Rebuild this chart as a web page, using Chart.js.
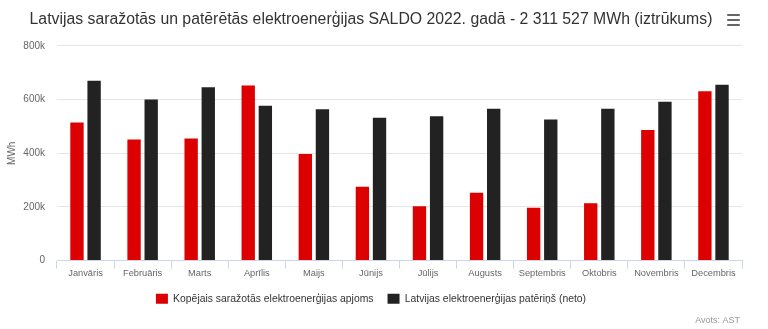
<!DOCTYPE html>
<html>
<head>
<meta charset="utf-8">
<script src="https://cdn.jsdelivr.net/npm/chart.js@4/dist/chart.umd.min.js"></script>
<style>
  html, body { margin: 0; padding: 0; background: #fff; }
  #wrap { position: relative; width: 768px; height: 329px; }
</style>
</head>
<body>
<div id="wrap"><canvas id="chart_canvas" width="768" height="329"></canvas></div>
<script>
// month labels
const months = ["Janvāris", "Februāris", "Marts", "Aprīlis", "Maijs", "Jūnijs",
  "Jūlijs", "Augusts", "Septembris", "Oktobris", "Novembris", "Decembris"];

// MWh
const produced = [515000, 451000, 455000, 653000, 397000, 275000,
  203000, 253000, 197000, 214000, 487000, 631000];
const consumed = [670000, 600000, 646000, 577000, 564000, 532000,
  538000, 566000, 526000, 566000, 592000, 655000];

const series_names = ["Kopējais saražotās elektroenerģijas apjoms",
  "Latvijas elektroenerģijas patēriņš (neto)"];

const title_text = "Latvijas saražotās un patērētās elektroenerģijas SALDO 2022. gadā - 2 311 527 MWh (iztrūkums)";
const credits_text = "Avots: AST";

const font_family = "'Liberation Sans', Arial, sans-serif";

// hamburger menu + credits, drawn after everything else
const extras_plugin = {
  id: "extras",
  afterDraw(chart){
    const ctx = chart.ctx;
    ctx.save();
    ctx.strokeStyle = "#666";
    ctx.lineWidth = 2;
    ctx.lineCap = "round";
    for(let i = 0; i < 3; i++){
      const y = 15 + i * 5;
      ctx.beginPath();
      ctx.moveTo(728, y);
      ctx.lineTo(739, y);
      ctx.stroke();
    }
    ctx.fillStyle = "#999";
    ctx.font = "9px " + font_family;
    ctx.textAlign = "right";
    ctx.textBaseline = "middle";
    ctx.fillText(credits_text, 740, 321);
    ctx.restore();
  }
};

const ctx_1 = document.getElementById("chart_canvas");

const chart_1 = new Chart(ctx_1, {
  type: "bar",
  data: {
    labels: months,
    datasets: [{
      label: series_names[0],
      data: produced,
      backgroundColor: "#dd0000",
      borderWidth: 0
    }, {
      label: series_names[1],
      data: consumed,
      backgroundColor: "#222222",
      borderWidth: 0
    }]
  },
  options: {
    responsive: false,
    animation: false,
    layout: { padding: { left: 0, right: 26, top: 6, bottom: 15 } },
    datasets: {
      bar: { categoryPercentage: 0.6, barPercentage: 0.78 }
    },
    scales: {
      x: {
        offset: true,
        grid: {
          offset: true,
          drawOnChartArea: false,
          drawTicks: true,
          tickLength: 8,
          color: "#ccd6eb"
        },
        border: { color: "#ccd6eb" },
        ticks: {
          padding: -1,
          color: "#666",
          font: { family: font_family, size: 9.3 },
          maxRotation: 0,
          autoSkip: false
        },
        afterFit(scale){ scale.height = 19; }
      },
      y: {
        min: 0,
        max: 800000,
        ticks: {
          stepSize: 200000,
          padding: 12,
          color: "#666",
          font: { family: font_family, size: 10 },
          callback: (v) => v === 0 ? "0" : (v / 1000) + "k"
        },
        grid: { color: "#e6e6e6", drawTicks: false },
        border: { display: false },
        title: {
          display: true,
          text: "MWh",
          color: "#666",
          padding: { top: 6, bottom: 0 },
          font: { family: font_family, size: 10 }
        },
        afterFit(scale){ scale.width = 57; }
      }
    },
    plugins: {
      title: {
        display: true,
        text: title_text,
        color: "#333",
        font: { family: font_family, size: 15.8, weight: "normal" },
        padding: { top: 4, bottom: 17 }
      },
      legend: {
        position: "bottom",
        labels: {
          boxWidth: 12,
          boxHeight: 10,
          padding: 14,
          color: "#333",
          font: { family: font_family, size: 10.4 }
        }
      },
      tooltip: { enabled: false }
    }
  },
  plugins: [extras_plugin]
});
</script>
</body>
</html>
